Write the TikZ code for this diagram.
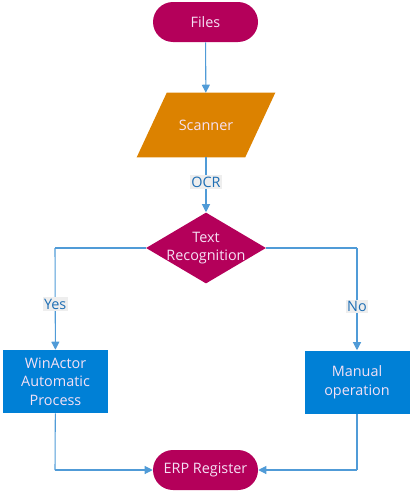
\documentclass[tikz,border=0pt]{standalone}
\usepackage{fontspec}
\setmainfont{Open Sans}
\usetikzlibrary{shapes.geometric,arrows.meta,backgrounds}
\definecolor{magentaC}{RGB}{180,0,90}
\definecolor{orangeC}{RGB}{220,130,0}
\definecolor{blueC}{RGB}{0,128,214}
\definecolor{lineC}{RGB}{80,155,215}
\definecolor{txtC}{RGB}{245,225,245}
\definecolor{lblC}{RGB}{30,110,180}
\definecolor{lblbg}{RGB}{238,238,238}
\begin{document}
\begin{tikzpicture}[x=0.75pt,y=-0.75pt,
  every node/.style={font=\fontsize{10.8}{13.9}\selectfont, text=txtC, align=center, inner sep=0pt},
  term/.style={fill=magentaC, rounded corners=15pt, minimum width=105*0.75pt, minimum height=40*0.75pt},
  io/.style={rectangle, minimum width=108*0.75pt, minimum height=64*0.75pt},
  dec/.style={diamond, fill=magentaC, minimum width=120*0.75pt, minimum height=71*0.75pt, aspect=1.69},
  proc/.style={fill=blueC, minimum width=105*0.75pt, minimum height=63*0.75pt},
  conn/.style={draw=lineC, line width=0.8pt, -{Triangle[width=6pt,length=6pt]}},
  plain/.style={draw=lineC, line width=0.8pt},
  lbl/.style={fill=lblbg, text=lblC, inner sep=1pt}]
\useasboundingbox (0,0) rectangle (412,493);
\node[term] (files) at (205.5,22) {Files};
\node[io] (scan) at (206,125) {Scanner};
\begin{scope}[on background layer]
\fill[orangeC] ([xshift=15*0.75pt]scan.north west) -- ([xshift=15*0.75pt]scan.north east)
  -- ([xshift=-15*0.75pt]scan.south east) -- ([xshift=-15*0.75pt]scan.south west) -- cycle;
\end{scope}
\node[dec] (rec) at (206,248) {};
\node (rectxt) at (rec.center) {Text\\Recognition};
\node[proc] (win) at (55.5,381.5) {WinActor\\Automatic\\Process};
\node[proc] (man) at (357,382) {Manual\\operation};
\node[term] (erp) at (205.5,470) {ERP Register};
\coordinate (lc) at (55,248);
\coordinate (rc) at (357,248);
\coordinate (lb) at (55,470);
\coordinate (rb) at (357,470);
\draw[conn] (files) -- (scan);
\draw[conn] (scan) -- node[lbl, pos=0.45] (ocr) {OCR} (rec);
\draw[plain] (rec.west) -- (lc);
\draw[conn] (lc) -- node[lbl, pos=0.55] (yes) {Yes} (win);
\draw[plain] (rec.east) -- (rc);
\draw[conn] (rc) -- node[lbl, pos=0.57] (no) {No} (man);
\draw[plain] (win) -- (lb);
\draw[conn] (lb) -- (erp);
\draw[plain] (man) -- (rb);
\draw[conn] (rb) -- (erp);
\end{tikzpicture}
\end{document}
